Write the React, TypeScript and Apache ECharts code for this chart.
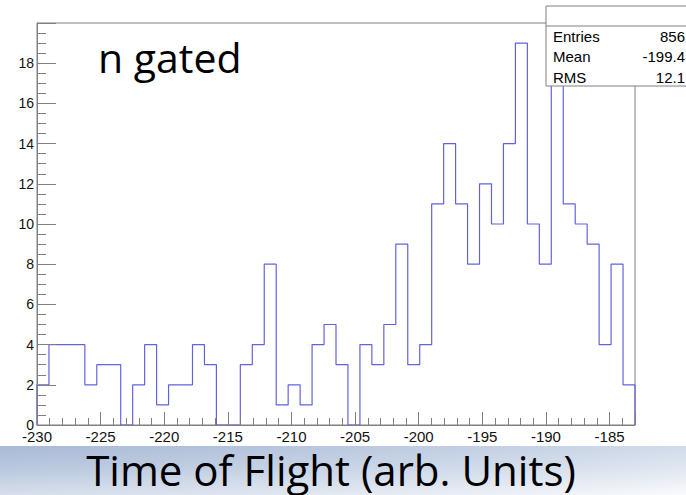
import React, { useEffect, useRef } from 'react';
import * as echarts from 'echarts';

// ---- data ----
const xMin = -230;
const xMax = -183;
const binCount = 50;
const counts = [
  2, 4, 4, 4, 2, 3, 3, 0, 2, 4,
  1, 2, 2, 4, 3, 0, 0, 3, 4, 8,
  1, 2, 1, 4, 5, 3, 0, 4, 3, 5,
  9, 3, 4, 11, 14, 11, 8, 12, 10, 14,
  19, 10, 8, 18, 11, 10, 9, 4, 8, 2,
];
const yMin = 0;
const yMax = 20;
const statsLabels = ['Entries', 'Mean', 'RMS'];
const statsValues = ['856', '-199.4', '12.1'];
const xTitle = 'Time of Flight (arb. Units)';
const panelLabel = 'n gated';

function histogramOutline(): number[][] {
  const w = (xMax - xMin) / binCount;
  const pts: number[][] = [[xMin, 0]];
  counts.forEach((c, i) => {
    const l = xMin + i * w;
    const r = xMin + (i + 1) * w;
    pts.push([l, c]);
    pts.push([r, c]);
  });
  pts.push([xMax, 0]);
  return pts;
}

const GRAY = '#808080';
const SANS = '"Liberation Sans", Arial, sans-serif';
const SLIDE = '"Open Sans", "Noto Sans", sans-serif';

export default function App() {
  const ref = useRef<HTMLDivElement>(null);
  useEffect(() => {
    if (!ref.current) return;
    const chart = echarts.init(ref.current, undefined, { renderer: 'svg' });
    const statsTexts: any[] = [];
    statsLabels.forEach((lab, i) => {
      const cy = 36 + i * 20.5;
      statsTexts.push({
        type: 'text', z: 101, x: 553, y: cy,
        style: { text: lab, fill: '#000', font: `15px ${SANS}`, align: 'left', verticalAlign: 'middle', textAlign: 'left', textVerticalAlign: 'middle' },
      });
      statsTexts.push({
        type: 'text', z: 101, x: 685, y: cy,
        style: { text: statsValues[i], fill: '#000', font: `15px ${SANS}`, align: 'right', verticalAlign: 'middle', textAlign: 'right', textVerticalAlign: 'middle' },
      });
    });
    chart.setOption({
      animation: false,
      backgroundColor: '#ffffff',
      grid: { left: 37, top: 23, width: 598, height: 402, show: true, borderColor: GRAY, borderWidth: 1, backgroundColor: 'transparent' },
      xAxis: [
        {
          type: 'value', min: xMin, max: xMax, interval: 5, position: 'bottom', z: 10,
          axisLine: { show: true, lineStyle: { color: GRAY, width: 1 } },
          axisTick: { show: true, inside: true, length: 13, lineStyle: { color: GRAY } },
          axisLabel: {
            show: true, margin: 4, color: '#111', fontFamily: SANS, fontSize: 15, lineHeight: 15,
            formatter: (v: number) => (Math.abs(v % 5) < 1e-9 ? String(v) : ''),
          },
          splitLine: { show: false },
        },
        {
          type: 'value', min: xMin, max: xMax, interval: 1, position: 'bottom', z: 10,
          axisLine: { show: false },
          axisTick: { show: true, inside: true, length: 7, lineStyle: { color: GRAY } },
          axisLabel: { show: false },
          splitLine: { show: false },
        },
      ],
      yAxis: {
        type: 'value', min: yMin, max: yMax, interval: 2, z: 10,
        axisLine: { show: true, lineStyle: { color: GRAY, width: 1 } },
        axisTick: { show: true, inside: true, length: 19, lineStyle: { color: GRAY } },
        minorTick: { show: true, splitNumber: 4, length: 9, lineStyle: { color: GRAY } },
        axisLabel: { show: true, margin: 3, color: '#111', fontFamily: SANS, fontSize: 14, showMaxLabel: false },
        splitLine: { show: false },
      },
      series: [
        {
          type: 'line', xAxisIndex: 0, yAxisIndex: 0,
          data: histogramOutline(), showSymbol: false, symbol: 'none',
          lineStyle: { color: '#6262de', width: 1.2 },
          z: 1,
        },
      ],
      graphic: [
        {
          type: 'rect', z: -10, silent: true,
          shape: { x: 0, y: 446, width: 686, height: 49 },
          style: {
            fill: new echarts.graphic.LinearGradient(0, 0, 0, 1, [
              { offset: 0, color: '#b9c8df' },
              { offset: 0.45, color: '#cfdae9' },
              { offset: 1, color: '#f6f8fb' },
            ]),
          },
        },
        {
          type: 'rect', z: -9, silent: true,
          shape: { x: 0, y: 446, width: 686, height: 49 },
          style: {
            fill: new echarts.graphic.LinearGradient(0, 0, 1, 0, [
              { offset: 0, color: 'rgba(120,145,190,0.25)' },
              { offset: 1, color: 'rgba(255,255,255,0.35)' },
            ]),
          },
        },
        {
          type: 'rect', z: 100,
          shape: { x: 546, y: 6, width: 150, height: 80 },
          style: { fill: '#ffffff', stroke: GRAY, lineWidth: 1 },
        },
        {
          type: 'line', z: 101,
          shape: { x1: 546, y1: 26, x2: 686, y2: 26 },
          style: { stroke: GRAY, lineWidth: 1 },
        },
        ...statsTexts,
        {
          type: 'text', z: 100, x: 98, y: 57,
          style: { text: panelLabel, fill: '#000', font: `41px ${SLIDE}`, align: 'left', verticalAlign: 'middle', textAlign: 'left', textVerticalAlign: 'middle' },
        },
        {
          type: 'text', z: 100, x: 331, y: 469,
          style: { text: xTitle, fill: '#000', font: `42px ${SLIDE}`, lineHeight: 40, align: 'center', verticalAlign: 'middle', textAlign: 'center', textVerticalAlign: 'middle' },
        },
      ],
    });
    return () => chart.dispose();
  }, []);
  return <div ref={ref} style={{ position: 'fixed', left: 0, top: 0, width: 686, height: 495 }} />;
}
